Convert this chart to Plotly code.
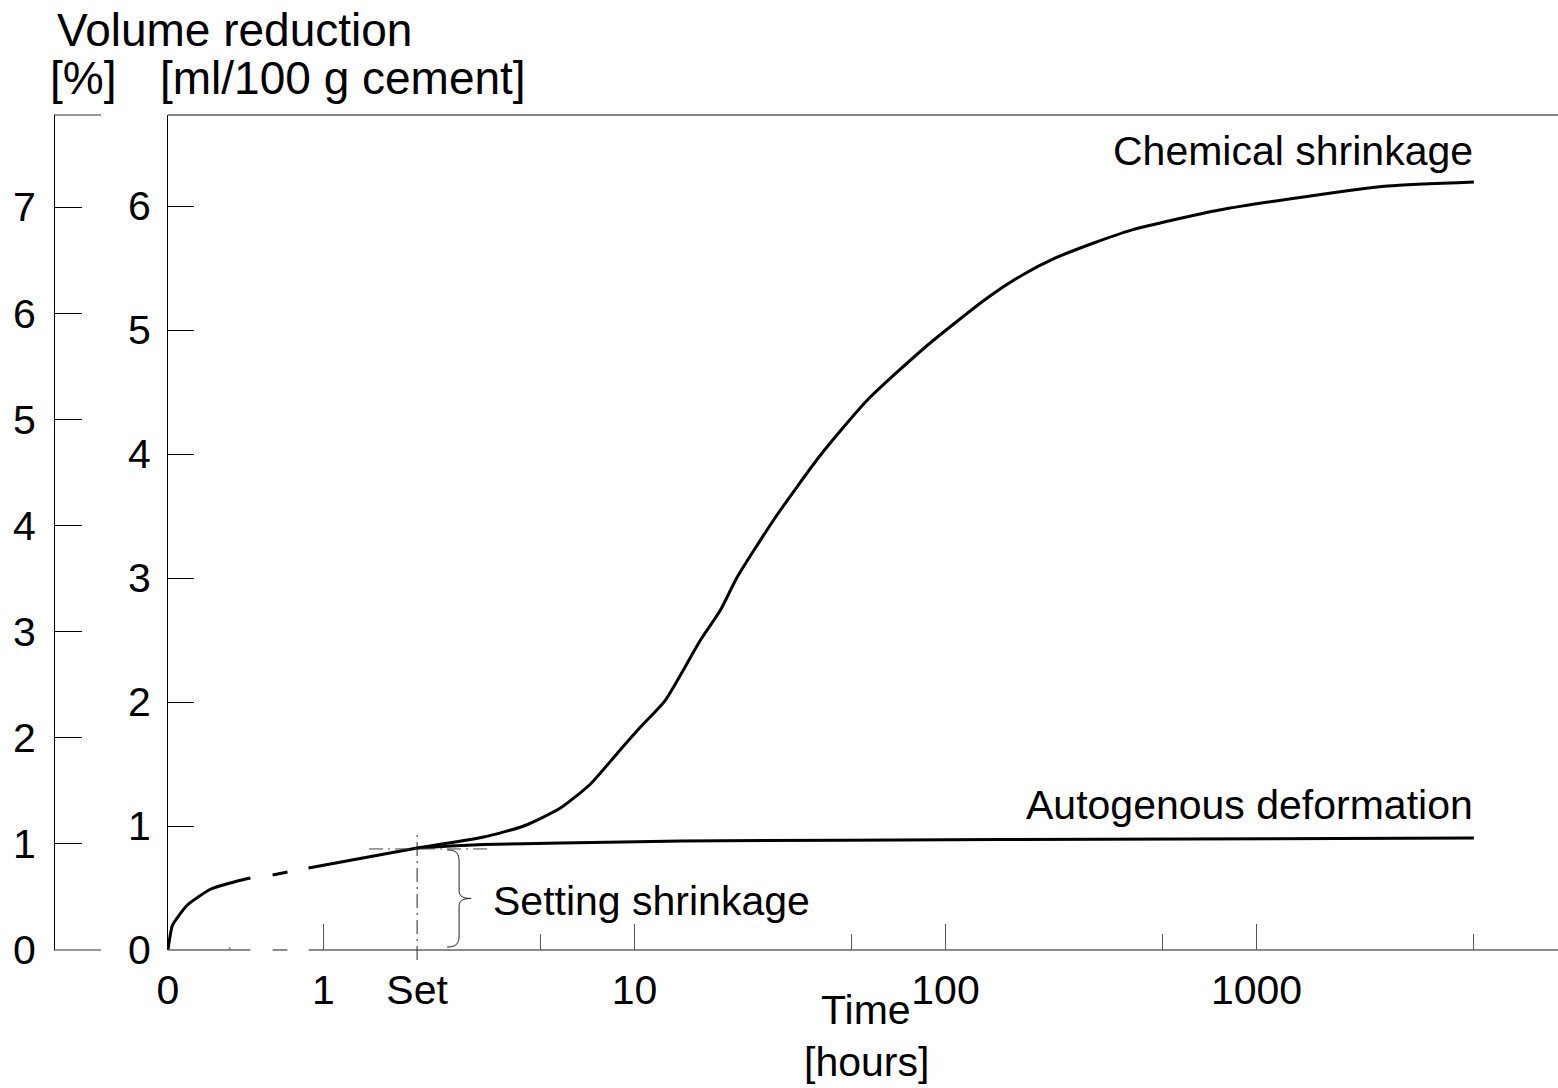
import math
import plotly.graph_objects as go

# ---------------- data ----------------
T0 = 10 ** -0.5          # position of the "0" time label on the broken log axis
SET_T = 2.0              # time of set [h]
SET_V = 0.823            # setting shrinkage at set [ml/100 g cement]

early_t = [T0, 0.327, 0.365, 0.433, 0.529, 0.582, None, 0.686, 0.766, None, 0.895, SET_T]
early_v = [0.0, 0.20, 0.363, 0.49, 0.556, 0.58, None, 0.605, 0.629, None, 0.661, SET_V]

chem_t = [SET_T, 3.27, 4.40, 5.78, 7.22, 8.82, 10.45, 12.58, 16.3, 18.9, 21.4, 28.4,
          39.6, 56.1, 86.2, 137.5, 176.8, 225.8, 299.5, 396, 760, 1416, 2637, 5000]
chem_v = [SET_V, 0.911, 1.0, 1.145, 1.339, 1.589, 1.798, 2.016, 2.5, 2.742, 3.008, 3.49,
          3.99, 4.435, 4.863, 5.266, 5.444, 5.581, 5.702, 5.806, 5.968, 6.073, 6.161, 6.194]

auto_t = [SET_T, 2.56, 3.27, 5.78, 14.1, 150, 5000]
auto_v = [SET_V, 0.839, 0.851, 0.863, 0.879, 0.891, 0.903]

x_major = [1, 10, 100, 1000]
x_major_text = ["1", "10", "100", "1000"]
x_minor = [5, 50, 500, 5000]
x_special = [T0, SET_T]
x_special_text = ["0", "Set"]
y_ml_ticks = [0, 1, 2, 3, 4, 5, 6]
y_pct_ticks = [0, 1, 2, 3, 4, 5, 6, 7]

# ---------------- geometry ----------------
W, H = 1558, 1088
ML, MR, MT, MB = 54, 0, 115, 138
PX0, PX1 = 168, 1558           # plot area in pixels
PY0, PY1 = 950, 115
R0 = -0.5
R1 = R0 + (PX1 - PX0) / 311.0
YMAX = 6.734
YMAX_PCT = 7.867
D0 = (PX0 - ML) / (W - ML - MR)
FONT = "Liberation Sans, Arial, sans-serif"
FS = 41
FS_TITLE = 46


def tx(t):
    return PX0 + (math.log10(t) - R0) / (R1 - R0) * (PX1 - PX0)


def vy(v):
    return PY0 - v / YMAX * (PY0 - PY1)


def ppx(x):
    return (x - ML) / (W - ML - MR)


def ppy(y):
    return (PY0 - y) / (PY0 - PY1)


fig = go.Figure()

fig.add_trace(go.Scatter(x=early_t, y=early_v, mode="lines",
                         line=dict(color="black", width=3, shape="spline", smoothing=0.5),
                         connectgaps=False, hoverinfo="skip"))
fig.add_trace(go.Scatter(x=chem_t, y=chem_v, mode="lines",
                         line=dict(color="black", width=3, shape="spline", smoothing=0.6),
                         hoverinfo="skip"))
fig.add_trace(go.Scatter(x=auto_t, y=auto_v, mode="lines",
                         line=dict(color="black", width=3, shape="spline", smoothing=0.5),
                         hoverinfo="skip"))
# invisible anchors for the secondary axes
fig.add_trace(go.Scatter(x=[1], y=[0], xaxis="x2", yaxis="y2", mode="markers",
                         marker=dict(opacity=0), hoverinfo="skip"))

shapes = []
# bottom axis line with the break
segs = [(PX0, tx(early_t[5])), (tx(early_t[7]), tx(early_t[8])), (tx(early_t[10]), PX1)]
for a, b in segs:
    shapes.append(dict(type="line", xref="paper", yref="paper", x0=ppx(a), x1=ppx(b), y0=0, y1=0,
                       line=dict(color="#666666", width=1.5)))
# top frame line
shapes.append(dict(type="line", xref="paper", yref="paper", x0=ppx(PX0), x1=1, y0=1, y1=1,
                   line=dict(color="#888888", width=2)))
# short lines on the outer (%) axis
for yy in (0, 1):
    shapes.append(dict(type="line", xref="paper", yref="paper", x0=0, x1=ppx(101), y0=yy, y1=yy,
                       line=dict(color="#333333", width=1)))
# tiny tick at 0.5 h
shapes.append(dict(type="line", xref="paper", yref="paper", x0=ppx(tx(0.5)), x1=ppx(tx(0.5)),
                   y0=0, y1=ppy(PY0 - 3), line=dict(color="#555555", width=1)))
# set markers (dash-dot)
sx, sy = tx(SET_T), vy(SET_V)
shapes.append(dict(type="line", xref="paper", yref="paper", x0=ppx(sx), x1=ppx(sx),
                   y0=ppy(960), y1=ppy(sy - 14),
                   line=dict(color="#222222", width=1, dash="14px,5px,2px,5px")))
shapes.append(dict(type="line", xref="paper", yref="paper", x0=ppx(sx - 48), x1=ppx(sx + 73),
                   y0=ppy(sy + 1), y1=ppy(sy + 1),
                   line=dict(color="#444444", width=1, dash="14px,5px,2px,5px")))
# brace for setting shrinkage
yt, yb = sy + 2, PY0 - 3
ym = (yt + yb) / 2
xa, xb, xc = sx + 30, sx + 42, sx + 54
pts = [
    ("M", [(xa, yt)]),
    ("C", [(xa + 9, yt), (xb, yt + 3), (xb, yt + 12)]),
    ("L", [(xb, ym - 8)]),
    ("C", [(xb, ym - 2), (xb + 4, ym), (xc, ym)]),
    ("C", [(xb + 4, ym), (xb, ym + 2), (xb, ym + 8)]),
    ("L", [(xb, yb - 12)]),
    ("C", [(xb, yb - 3), (xa + 9, yb), (xa, yb)]),
]
path = ""
for cmd, pl in pts:
    path += cmd + " " + " ".join(f"{ppx(x):.5f},{ppy(y):.5f}" for x, y in pl) + " "
shapes.append(dict(type="path", xref="paper", yref="paper", path=path.strip(),
                   line=dict(color="#222222", width=1)))

ann_font = dict(family=FONT, size=FS, color="black")
title_font = dict(family=FONT, size=FS_TITLE, color="black")
annotations = [
    dict(text="Volume reduction", x=ppx(56), y=ppy(30), xanchor="left", yanchor="middle", font=title_font),
    dict(text="[%]", x=ppx(49), y=ppy(78), xanchor="left", yanchor="middle", font=title_font),
    dict(text="[ml/100 g cement]", x=ppx(159), y=ppy(78), xanchor="left", yanchor="middle", font=title_font),
    dict(text="Chemical shrinkage", x=ppx(tx(chem_t[-1])), y=ppy(151), xanchor="right", yanchor="middle", font=ann_font),
    dict(text="Autogenous deformation", x=ppx(tx(auto_t[-1])), y=ppy(805), xanchor="right", yanchor="middle", font=ann_font),
    dict(text="Setting shrinkage", x=ppx(492), y=ppy(901), xanchor="left", yanchor="middle", font=ann_font),
    dict(text="Time", x=ppx(866), y=ppy(1010), xanchor="center", yanchor="middle", font=ann_font),
    dict(text="[hours]", x=ppx(866), y=ppy(1062), xanchor="center", yanchor="middle", font=ann_font),
]
for a in annotations:
    a.update(xref="paper", yref="paper", showarrow=False, borderpad=0)

tickfont = dict(family=FONT, size=FS, color="black")
fig.update_layout(
    width=W, height=H, autosize=False,
    margin=dict(l=ML, r=MR, t=MT, b=MB, pad=0),
    paper_bgcolor="white", plot_bgcolor="white",
    showlegend=False,
    font=dict(family=FONT, size=FS, color="black"),
    xaxis=dict(type="log", range=[R0, R1], domain=[D0, 1], anchor="y",
               showgrid=False, zeroline=False, showline=False,
               tickmode="array", tickvals=x_major, ticktext=x_major_text,
               ticks="inside", ticklen=26, tickwidth=1, tickcolor="#555555",
               tickfont=tickfont, ticklabelstandoff=12,
               minor=dict(tickmode="array", tickvals=x_minor, ticks="inside",
                          ticklen=16, tickwidth=1, tickcolor="#555555", showgrid=False)),
    xaxis2=dict(type="log", range=[R0, R1], overlaying="x", anchor="y", side="bottom",
                showgrid=False, zeroline=False, showline=False,
                tickmode="array", tickvals=x_special, ticktext=x_special_text,
                ticks="", tickfont=tickfont, ticklabelstandoff=12),
    yaxis=dict(range=[0, YMAX], domain=[0, 1], anchor="x",
               showgrid=False, zeroline=False, showline=True, linecolor="black", linewidth=1,
               tickmode="array", tickvals=y_ml_ticks,
               ticks="inside", ticklen=26, tickwidth=1, tickcolor="black",
               tickfont=tickfont, ticklabelstandoff=8),
    yaxis2=dict(range=[0, YMAX_PCT], overlaying="y", anchor="free", position=0, side="left",
                showgrid=False, zeroline=False, showline=True, linecolor="black", linewidth=1,
                tickmode="array", tickvals=y_pct_ticks,
                ticks="inside", ticklen=27, tickwidth=1, tickcolor="black",
                tickfont=tickfont, ticklabelstandoff=10),
    shapes=shapes,
    annotations=annotations,
)

fig.write_html("out.html")
